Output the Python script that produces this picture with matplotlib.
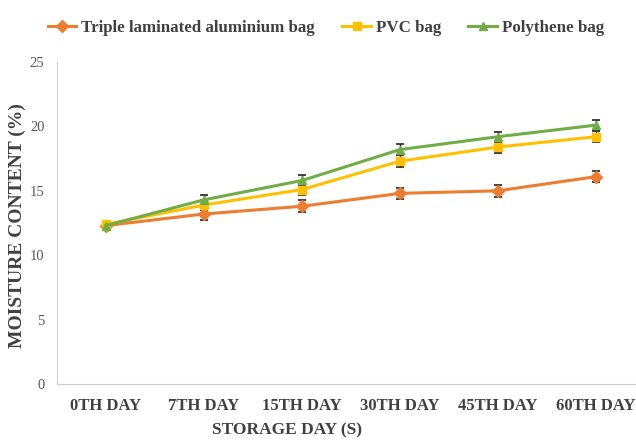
import numpy as np
import matplotlib.pyplot as plt
from matplotlib.lines import Line2D

# storage days and moisture content (%) for each packaging type
days = ['0TH DAY', '7TH DAY', '15TH DAY', '30TH DAY', '45TH DAY', '60TH DAY']
triple = [12.3, 13.2, 13.8, 14.8, 15.0, 16.1]
pvc = [12.4, 13.9, 15.1, 17.3, 18.4, 19.2]
poly = [12.3, 14.3, 15.8, 18.2, 19.2, 20.1]
err_triple = [0.2, 0.45, 0.45, 0.45, 0.45, 0.4]
err_pvc = [0.2, 0.4, 0.45, 0.45, 0.45, 0.45]
err_poly = [0.2, 0.4, 0.4, 0.4, 0.4, 0.4]

series = [
    ('Triple laminated aluminium bag', triple, err_triple, '#ED7D31', 'D'),
    ('PVC bag', pvc, err_pvc, '#FFC000', 's'),
    ('Polythene bag', poly, err_poly, '#70AD47', '^'),
]

serif = ['Liberation Serif', 'DejaVu Serif']
txt = '#404040'

fig = plt.figure(figsize=(6.36, 4.46), dpi=100)
ax = fig.add_axes([57 / 636, 62 / 446, 588 / 636, 322 / 446])

x = np.arange(len(days))
for name, vals, err, col, mk in series:
    ax.errorbar(x, vals, yerr=err, color=col, marker=mk, markersize=6,
                linewidth=2.2, ecolor='#222222', elinewidth=1, capsize=3,
                capthick=1.2, label=name, zorder=3)

ax.set_xlim(-0.5, len(days) - 0.5)
ax.set_ylim(0, 25)
ax.set_yticks([0, 5, 10, 15, 20, 25])
ax.set_yticklabels([str(v) for v in [0, 5, 10, 15, 20, 25]],
                   family=serif, fontsize=10.5, color='#595959')
ax.set_xticks(x)
ax.set_xticklabels(days, family=serif, fontweight='bold', fontsize=12,
                   color=txt)
ax.tick_params(axis='y', length=0, pad=9)
ax.tick_params(axis='x', length=0, pad=10)

for s in ['top', 'right']:
    ax.spines[s].set_visible(False)
ax.spines['bottom'].set_color('#d0d0d0')
ax.spines['left'].set_color('#d0d0d0')

# axis titles placed in figure coordinates
fig.text(17 / 636, 1 - 226 / 446, 'MOISTURE CONTENT (%)', rotation=90,
         ha='center', va='center', family=serif, fontweight='bold',
         fontsize=14, color=txt)
fig.text(287 / 636, 1 - 430 / 446, 'STORAGE DAY (S)', ha='center',
         va='center', family=serif, fontweight='bold', fontsize=12.5,
         color=txt)

handles = [Line2D([], [], color=c, marker=m, markersize=6, linewidth=2.2)
           for _, _, _, c, m in series]
fig.legend(handles, [s[0] for s in series], loc='center',
           bbox_to_anchor=(326 / 636, 1 - 28 / 446), ncol=3, frameon=False,
           prop={'family': serif, 'weight': 'bold', 'size': 12.2},
           labelcolor=txt, handlelength=1.7, handletextpad=0.3,
           columnspacing=1.6)

fig.savefig('out.png', dpi=100)
